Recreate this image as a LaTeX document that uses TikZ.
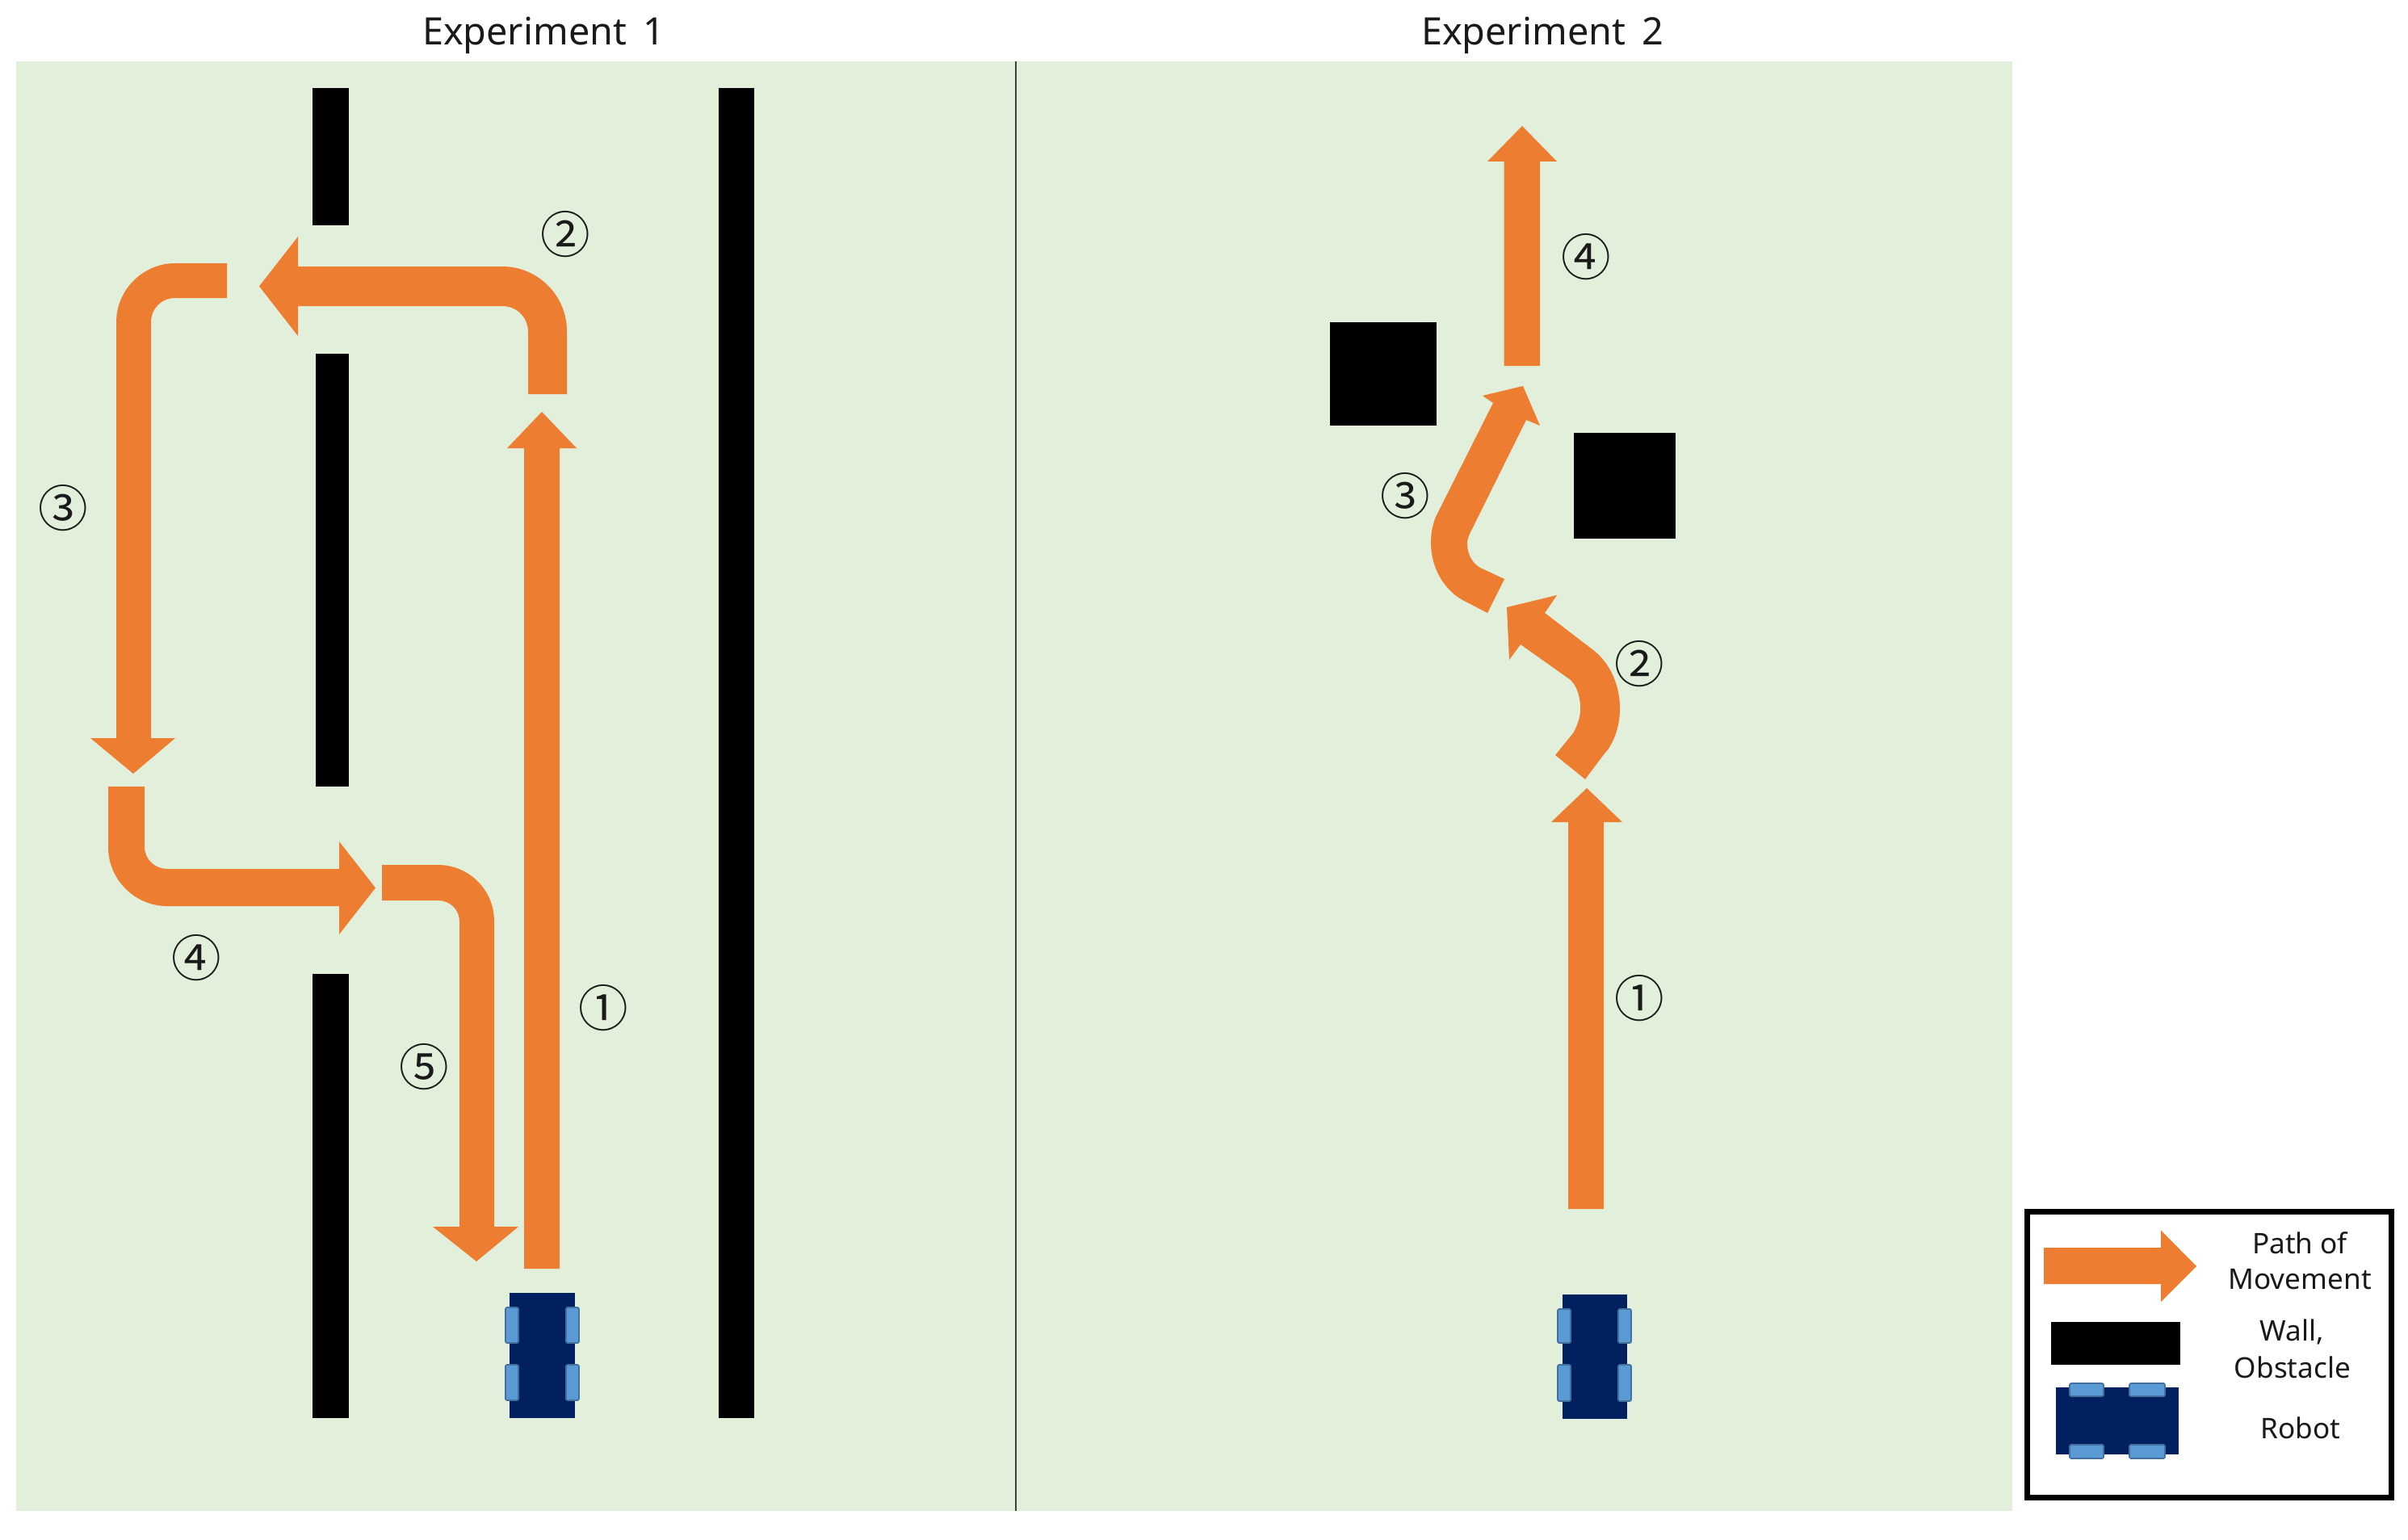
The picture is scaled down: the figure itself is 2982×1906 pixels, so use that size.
\documentclass[tikz,border=0pt]{standalone}
\usepackage{fontspec}
\setmainfont{Noto Sans}
\newfontfamily\circfont{Noto Sans CJK KR}
\definecolor{panelgreen}{HTML}{E2EFDA}
\definecolor{patharrow}{HTML}{ED7D31}
\definecolor{robotnavy}{HTML}{002060}
\definecolor{wheelblue}{HTML}{5B9BD5}
\definecolor{wheeledge}{HTML}{41719C}
\definecolor{inktext}{HTML}{1A1A1A}
\tikzset{
  panel/.style={fill=panelgreen,draw=none},
  wall/.style={fill=black,draw=none},
  patharrowfill/.style={fill=patharrow,draw=none},
  robotbody/.style={fill=robotnavy,draw=none},
  wheel/.style={fill=wheelblue,draw=wheeledge,line width=0.5pt,rounded corners=0.6pt},
  titletext/.style={font=\fontsize{13.3}{16}\selectfont,text=inktext,inner sep=0pt},
  legendtext/.style={font=\fontsize{10}{12}\selectfont,text=inktext,inner sep=0pt,anchor=center},
  stepnum/.style={font=\circfont\fontsize{17.5}{21}\selectfont,text=inktext,inner sep=0pt},
}
\begin{document}
\begin{tikzpicture}[x=0.01cm,y=-0.01cm]
\useasboundingbox (0,0) rectangle (2982,1906);
\fill[white] (0,0) rectangle (2982,1906);
% panels
\fill[panel] (20,76) rectangle (2492,1871);
\draw[line width=0.7pt,color=black!75] (1258,76) -- (1258,1871);
% titles
\node[titletext] (title1) at (673,44) {Experiment\, 1};
\node[titletext] (title2) at (1910,44) {Experiment\, 2};
% walls experiment 1
\fill[wall] (387,109) rectangle (432,279);
\fill[wall] (391,438) rectangle (432,974);
\fill[wall] (387,1206) rectangle (432,1756);
\fill[wall] (890,109) rectangle (934,1756);
% obstacles experiment 2
\fill[wall] (1647,399) rectangle (1779,527);
\fill[wall] (1949,536) rectangle (2075,667);
% arrows experiment 1
\fill[patharrowfill] (649,1571) -- (649,555) -- (628,555) -- (671,510) -- (714,555) -- (693,555) -- (693,1571) -- cycle;
\fill[patharrowfill] (654,488) -- (654,411) .. controls (654,393) and (640,379) .. (622,379) -- (369,379) -- (369,416) -- (321,354.5) -- (369,293) -- (369,330) -- (622,330) .. controls (666,330) and (702,366) .. (702,410) -- (702,488) -- cycle;
\fill[patharrowfill] (281,326) -- (217,326) .. controls (177,326) and (144,359) .. (144,399) -- (144,914) -- (112,914) -- (165,958) -- (217,914) -- (187,914) -- (187,399) .. controls (187,382) and (200,369) .. (217,369) -- (281,369) -- cycle;
\fill[patharrowfill] (134,974) -- (134,1049) .. controls (134,1089) and (167,1122) .. (207,1122) -- (420,1122) -- (420,1157) -- (465,1099.5) -- (420,1042) -- (420,1076) -- (207,1076) .. controls (192,1076) and (179,1064) .. (179,1049) -- (179,974) -- cycle;
\fill[patharrowfill] (473,1071) -- (542,1071) .. controls (581,1071) and (612,1102) .. (612,1141) -- (612,1519) -- (642,1519) -- (590,1562) -- (536,1519) -- (569,1519) -- (569,1141) .. controls (569,1126) and (557,1115) .. (542,1115) -- (473,1115) -- cycle;
% arrows experiment 2
\fill[patharrowfill] (1942,1497) -- (1942,1018) -- (1921,1018) -- (1965,976) -- (2009,1018) -- (1986,1018) -- (1986,1497) -- cycle;
\fill[patharrowfill] (1926,935) -- (1948,908) .. controls (1954,898) and (1958,885) .. (1957,873) .. controls (1956,860) and (1952,849) .. (1945,842) -- (1883,798) -- (1869,817) -- (1866,752) -- (1928,737) -- (1913,759) -- (1973,805) .. controls (1995,822) and (2006,850) .. (2006,877) .. controls (2006,905) and (1995,925) .. (1987,933) -- (1963,965) -- cycle;
\fill[patharrowfill] (1842,759) -- (1815,745) .. controls (1790,733) and (1772,705) .. (1772,672) .. controls (1772,660) and (1774,650) .. (1778,640) -- (1849,499) -- (1836,490) -- (1886,478) -- (1907,527) -- (1890,520) -- (1823,655) .. controls (1819,662) and (1817,668) .. (1817,673) .. controls (1817,687) and (1824,699) .. (1835,704) -- (1863,717) -- cycle;
\fill[patharrowfill] (1862.5,453) -- (1862.5,200) -- (1842,200) -- (1885,156) -- (1928,200) -- (1907,200) -- (1907,453) -- cycle;
% robot experiment 1
\fill[robotbody] (631,1601) rectangle (712,1756);
\filldraw[wheel] (626,1619) rectangle (642,1663);
\filldraw[wheel] (626,1690) rectangle (642,1734);
\filldraw[wheel] (701,1619) rectangle (717,1663);
\filldraw[wheel] (701,1690) rectangle (717,1734);
% robot experiment 2
\fill[robotbody] (1935,1603) rectangle (2015,1757);
\filldraw[wheel] (1929,1621) rectangle (1945,1663);
\filldraw[wheel] (1929,1690) rectangle (1945,1735);
\filldraw[wheel] (2004,1621) rectangle (2020,1663);
\filldraw[wheel] (2004,1690) rectangle (2020,1735);
% step numbers experiment 1
\node[stepnum] (a1) at (747,1248) {①};
\node[stepnum] (a2) at (700,290) {②};
\node[stepnum] (a3) at (78,629) {③};
\node[stepnum] (a4) at (243,1186) {④};
\node[stepnum] (a5) at (525,1321) {⑤};
% step numbers experiment 2
\node[stepnum] (b1) at (2030,1236) {①};
\node[stepnum] (b2) at (2030,822) {②};
\node[stepnum] (b3) at (1740,614) {③};
\node[stepnum] (b4) at (1964,318) {④};
% legend
\draw[line width=2pt,color=black,fill=white] (2510.5,1500.5) rectangle (2961.5,1854);
\fill[patharrowfill] (2531,1545) -- (2676,1545) -- (2676,1523.5) -- (2720,1568) -- (2676,1612) -- (2676,1590) -- (2531,1590) -- cycle;
\fill[wall] (2540,1637) rectangle (2700,1690);
\fill[robotbody] (2546,1718) rectangle (2698,1801);
\filldraw[wheel] (2563,1713) rectangle (2605,1729);
\filldraw[wheel] (2637,1713) rectangle (2681,1729);
\filldraw[wheel] (2563,1789) rectangle (2605,1806);
\filldraw[wheel] (2637,1789) rectangle (2681,1806);
\node[legendtext] (lpath) at (2848,1539) {Path of};
\node[legendtext] (lmove) at (2848,1584) {Movement};
\node[legendtext] (lwall) at (2838,1649) {Wall,};
\node[legendtext] (lobst) at (2839,1693) {Obstacle};
\node[legendtext] (lrobot) at (2849,1768) {Robot};
\end{tikzpicture}
\end{document}
